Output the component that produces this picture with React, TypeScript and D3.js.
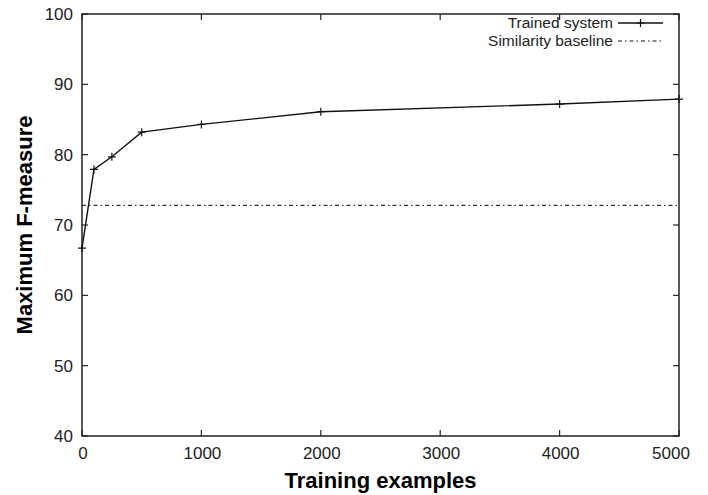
import React, { useRef, useEffect } from 'react';
import * as d3 from 'd3';

// training set sizes and the measured scores
const trainingSizes = [0, 100, 250, 500, 1000, 2000, 4000, 5000];
const trainedScores = [66.7, 77.9, 79.7, 83.2, 84.3, 86.1, 87.2, 87.9];
const baselineScore = 72.8;

const xTicks = [0, 1000, 2000, 3000, 4000, 5000];
const yTicks = [40, 50, 60, 70, 80, 90, 100];

const seriesNames = ['Trained system', 'Similarity baseline'];

const width = 708;
const height = 495;
const margin = { top: 14, right: 29, bottom: 59, left: 82 };
const font = 'Liberation Sans, Arial, Helvetica, sans-serif';
const dashDot = '4,3,1.5,3';

const App: React.FC = () => {
  const svgRef = useRef<SVGSVGElement | null>(null);

  useEffect(() => {
    const svg = d3.select(svgRef.current);
    svg.selectAll('*').remove();

    const x = d3.scaleLinear().domain([0, 5000]).range([margin.left, width - margin.right]);
    const y = d3.scaleLinear().domain([40, 100]).range([height - margin.bottom, margin.top]);
    const tickLen = 6;
    const ink = '#222';

    // frame
    svg.append('rect')
      .attr('x', x(0)).attr('y', y(100))
      .attr('width', x(5000) - x(0)).attr('height', y(40) - y(100))
      .attr('fill', 'none').attr('stroke', ink).attr('stroke-width', 1.5);

    // inward ticks on all sides
    const g = svg.append('g').attr('stroke', ink).attr('stroke-width', 1.2);
    xTicks.forEach(t => {
      g.append('line').attr('x1', x(t)).attr('x2', x(t)).attr('y1', y(40)).attr('y2', y(40) - tickLen);
      g.append('line').attr('x1', x(t)).attr('x2', x(t)).attr('y1', y(100)).attr('y2', y(100) + tickLen);
    });
    yTicks.forEach(t => {
      g.append('line').attr('x1', x(0)).attr('x2', x(0) + tickLen).attr('y1', y(t)).attr('y2', y(t));
      g.append('line').attr('x1', x(5000)).attr('x2', x(5000) - tickLen).attr('y1', y(t)).attr('y2', y(t));
    });

    // tick labels
    svg.append('g').selectAll('text').data(xTicks).enter().append('text')
      .attr('x', d => x(d) + (d === 5000 ? -8 : 1))
      .attr('y', y(40) + 23)
      .attr('text-anchor', 'middle')
      .attr('font-family', font).attr('font-size', 17).attr('fill', ink)
      .text(d => d);

    svg.append('g').selectAll('text').data(yTicks).enter().append('text')
      .attr('x', x(0) - 9)
      .attr('y', d => y(d) + 6)
      .attr('text-anchor', 'end')
      .attr('font-family', font).attr('font-size', 17).attr('fill', ink)
      .text(d => d);

    // axis titles
    svg.append('text')
      .attr('x', (x(0) + x(5000)) / 2).attr('y', 488)
      .attr('text-anchor', 'middle')
      .attr('font-family', font).attr('font-size', 22).attr('font-weight', 'bold')
      .text('Training examples');

    svg.append('text')
      .attr('transform', `translate(32,${(y(40) + y(100)) / 2}) rotate(-90)`)
      .attr('text-anchor', 'middle')
      .attr('font-family', font).attr('font-size', 22).attr('font-weight', 'bold')
      .text('Maximum F-measure');

    // baseline
    svg.append('line')
      .attr('x1', x(0)).attr('x2', x(5000))
      .attr('y1', y(baselineScore)).attr('y2', y(baselineScore))
      .attr('stroke', '#000').attr('stroke-width', 1).attr('stroke-dasharray', dashDot);

    // trained system curve
    const pts = trainingSizes.map((s, i) => [s, trainedScores[i]] as [number, number]);
    const line = d3.line<[number, number]>().x(d => x(d[0])).y(d => y(d[1]));
    svg.append('path')
      .attr('d', line(pts) || '')
      .attr('fill', 'none').attr('stroke', '#111').attr('stroke-width', 1.4);

    const plus = (px: number, py: number, r = 4) => `M${px - r},${py}H${px + r}M${px},${py - r}V${py + r}`;
    svg.append('path')
      .attr('d', pts.map(d => plus(x(d[0]), y(d[1]))).join(''))
      .attr('stroke', '#111').attr('stroke-width', 1.2);

    // legend
    const lx = 613;
    const sx1 = 618;
    const sx2 = 663;
    const rows = [23, 41];
    seriesNames.forEach((name, i) => {
      svg.append('text')
        .attr('x', lx).attr('y', rows[i] + 5)
        .attr('text-anchor', 'end')
        .attr('font-family', font).attr('font-size', 15.5).attr('fill', ink)
        .text(name);
      const l = svg.append('line')
        .attr('x1', sx1).attr('x2', sx2).attr('y1', rows[i]).attr('y2', rows[i])
        .attr('stroke', '#111');
      if (i === 0) {
        l.attr('stroke-width', 1.4);
        svg.append('path').attr('d', plus((sx1 + sx2) / 2, rows[i])).attr('stroke', '#111').attr('stroke-width', 1.2);
      } else {
        l.attr('stroke-width', 1).attr('stroke-dasharray', dashDot);
      }
    });
  }, []);

  return (
    <svg
      ref={svgRef}
      width={width}
      height={height}
      style={{ position: 'absolute', left: 0, top: 0, background: '#fff' }}
    ></svg>
  );
};

export default App;
